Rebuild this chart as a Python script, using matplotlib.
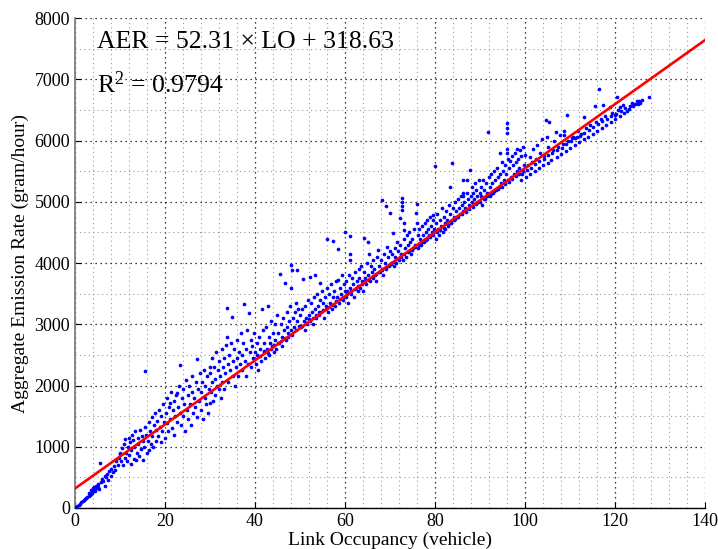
import numpy as np
import matplotlib.pyplot as plt
from matplotlib.ticker import MultipleLocator

plt.rcParams["font.family"] = ["Liberation Serif", "DejaVu Serif"]
plt.rcParams["mathtext.fontset"] = "custom"
plt.rcParams["mathtext.rm"] = "Liberation Serif"
plt.rcParams["mathtext.it"] = "Liberation Serif:italic"

# fitted model shown on the chart
slope = 52.31
intercept = 318.63
r_squared = 0.9794
fit_range = [0, 140]

# scatter values, grouped by link occupancy
occ_0_10 = [(0.2, 10), (0.5, 30), (0.8, 50), (1.1, 70), (1.4, 90), (1.7, 110), (2.0, 125),
            (2.2, 140), (2.5, 160), (2.7, 175), (3.0, 190), (3.1, 240), (3.3, 215), (3.5, 230),
            (3.6, 290), (3.8, 250), (3.9, 320), (4.0, 270), (4.2, 300), (4.3, 340), (4.5, 285),
            (4.6, 360), (4.8, 330), (5.0, 350), (5.1, 390), (5.3, 310), (5.6, 740), (5.8, 420),
            (6.1, 470), (6.3, 440), (6.6, 360), (6.7, 520), (6.9, 500), (7.1, 560), (7.4, 450),
            (7.6, 600), (7.9, 530), (8.1, 640), (8.4, 580), (8.7, 690), (8.9, 620), (9.2, 760),
            (9.5, 700), (9.7, 820), (9.9, 880)]

occ_10_20 = [(10.1, 900), (10.3, 760), (10.5, 980), (10.6, 700), (10.8, 1050), (11.0, 820),
             (11.2, 1130), (11.3, 900), (11.5, 760), (11.7, 1000), (11.9, 1150), (12.0, 860),
             (12.2, 1080), (12.4, 720), (12.5, 950), (12.7, 1200), (12.9, 1110), (13.0, 800),
             (13.2, 1000), (13.4, 1250), (13.6, 780), (13.7, 900), (13.9, 1150), (14.1, 1050),
             (14.3, 850), (14.5, 1280), (14.6, 960), (14.8, 1180), (15.0, 1100), (15.1, 780),
             (15.3, 1000), (15.5, 2240), (15.6, 1320), (15.8, 1200), (16.0, 900), (16.2, 1100),
             (16.4, 1400), (16.5, 950), (16.7, 1250), (16.9, 1050), (17.1, 1480), (17.2, 1180),
             (17.4, 1000), (17.6, 1350), (17.8, 1550), (18.0, 1100), (18.1, 1280), (18.3, 1420),
             (18.5, 1180), (18.7, 1600), (18.9, 1330), (19.0, 1080), (19.2, 1500), (19.4, 1250),
             (19.6, 1700), (19.8, 1400), (20.0, 1150)]

occ_20_30 = [(20.2, 1550), (20.4, 1380), (20.5, 1800), (20.7, 1250), (20.9, 1650), (21.0, 1710),
             (21.2, 1450), (21.4, 1900), (21.5, 1300), (21.7, 1600), (21.9, 1750), (22.0, 1200),
             (22.2, 1500), (22.4, 1850), (22.6, 1880), (22.7, 1400), (22.9, 1650), (23.1, 2000),
             (23.3, 2340), (23.4, 1550), (23.6, 1350), (23.8, 1800), (24.0, 1950), (24.1, 1500),
             (24.3, 1700), (24.5, 1250), (24.7, 2090), (24.8, 1600), (25.0, 1850), (25.2, 1450),
             (25.4, 2000), (25.6, 1700), (25.7, 1350), (25.9, 1900), (26.1, 2150), (26.3, 1550),
             (26.5, 1800), (26.6, 1650), (26.8, 2050), (27.0, 1490), (27.1, 2430), (27.3, 1950),
             (27.5, 1750), (27.7, 2200), (27.9, 1600), (28.0, 1900), (28.2, 2050), (28.4, 1450),
             (28.6, 2250), (28.8, 1800), (28.9, 2000), (29.1, 1700), (29.3, 2150), (29.5, 1550),
             (29.7, 1950), (29.9, 2300), (30.0, 1710), (30.0, 2200)]

occ_30_40 = [(30.2, 1900), (30.4, 2450), (30.5, 2050), (30.7, 1750), (30.9, 2300), (31.0, 2100),
             (31.2, 1850), (31.4, 2550), (31.5, 2000), (31.7, 2250), (31.9, 1950), (32.0, 2400),
             (32.2, 2150), (32.4, 1800), (32.6, 2600), (32.7, 2050), (32.9, 2300), (33.1, 2450),
             (33.2, 1950), (33.4, 2200), (33.6, 2660), (33.7, 2800), (33.7, 3270), (33.9, 2350),
             (34.1, 2050), (34.3, 2500), (34.5, 2250), (34.7, 2700), (34.8, 3120), (35.0, 2150),
             (35.2, 2400), (35.4, 2600), (35.5, 2000), (35.7, 2300), (35.9, 2750), (36.1, 2450),
             (36.2, 2150), (36.4, 2550), (36.6, 2350), (36.8, 2850), (37.0, 2250), (37.1, 2500),
             (37.3, 2700), (37.6, 3330), (37.7, 2400), (37.9, 2150), (38.1, 2600), (38.3, 2900),
             (38.5, 2350), (38.7, 3180), (38.8, 2550), (39.0, 2750), (39.2, 2300), (39.4, 2650),
             (39.6, 2450), (39.8, 2850), (40.0, 2550)]

occ_40_50 = [(40.2, 2350), (40.4, 2700), (40.5, 2500), (40.7, 2250), (40.9, 2800), (41.1, 2600),
             (41.3, 2400), (41.6, 3250), (41.7, 2900), (41.9, 2550), (42.1, 2700), (42.3, 2450),
             (42.5, 2950), (42.6, 2600), (42.9, 3300), (43.0, 2800), (43.2, 2500), (43.4, 2700),
             (43.6, 3050), (43.8, 2650), (44.0, 2850), (44.2, 2550), (44.4, 3000), (44.5, 2750),
             (44.7, 2600), (44.9, 3150), (45.1, 2850), (45.3, 2700), (45.6, 3820), (45.7, 3000),
             (45.9, 2800), (46.1, 2650), (46.3, 3100), (46.5, 2900), (46.7, 3670), (46.8, 2750),
             (47.0, 3200), (47.2, 2950), (47.4, 2850), (47.6, 3050), (47.8, 3300), (48.0, 2900),
             (48.1, 3970), (48.1, 3590), (48.2, 3880), (48.4, 3100), (48.6, 2950), (48.8, 3200),
             (49.0, 3350), (49.3, 3880), (49.4, 3050), (49.6, 3250), (49.8, 2980), (50.0, 3150)]

occ_50_60 = [(50.2, 2950), (50.4, 3250), (50.7, 3740), (50.8, 3050), (51.0, 2900), (51.2, 3300),
             (51.4, 3100), (51.6, 3000), (51.8, 3400), (52.0, 3150), (52.2, 3780), (52.3, 3050),
             (52.5, 3350), (52.7, 3200), (52.9, 3000), (53.1, 3450), (53.3, 3800), (53.4, 3250),
             (53.6, 3100), (53.8, 3500), (54.0, 3300), (54.2, 3150), (54.4, 3670), (54.5, 3400),
             (54.7, 3200), (54.9, 3550), (55.1, 3350), (55.3, 3100), (55.5, 3450), (55.7, 3300),
             (55.9, 3600), (56.1, 4390), (56.2, 3200), (56.4, 3500), (56.6, 3350), (56.8, 3650),
             (57.0, 3250), (57.3, 4365), (57.4, 3450), (57.6, 3550), (57.8, 3300), (58.0, 3700),
             (58.2, 3450), (58.5, 4230), (58.5, 3720), (58.7, 3350), (58.9, 3600), (59.1, 3500),
             (59.3, 3800), (59.5, 3400), (59.7, 3650), (59.9, 3550)]

occ_60_70 = [(60.0, 4500), (60.1, 3450), (60.3, 3700), (60.5, 3550), (60.7, 3350), (60.9, 3800),
             (61.0, 4150), (61.0, 4050), (61.1, 4440), (61.2, 3600), (61.4, 3500), (61.6, 3750),
             (61.8, 3650), (62.0, 3450), (62.2, 3850), (62.4, 3600), (62.6, 3700), (62.8, 3550),
             (63.0, 3900), (63.2, 3750), (63.4, 3600), (63.6, 3950), (63.8, 3700), (64.0, 3550),
             (64.1, 4410), (64.3, 3850), (64.5, 3750), (64.7, 3650), (64.9, 4000), (65.1, 3800),
             (65.2, 4350), (65.4, 4150), (65.5, 3700), (65.7, 3950), (65.9, 3850), (66.1, 3750),
             (66.3, 4050), (66.5, 3900), (66.7, 3800), (66.9, 3700), (67.1, 4100), (67.4, 4210),
             (67.5, 3950), (67.7, 3850), (67.9, 4050), (68.1, 5030), (68.2, 3900), (68.4, 3800),
             (68.6, 4150), (68.8, 4000), (69.0, 4930), (69.1, 3900), (69.3, 4270), (69.5, 4100),
             (69.7, 3950), (69.9, 4200)]

occ_70_80 = [(70.0, 4810), (70.2, 4000), (70.4, 4150), (70.7, 4485), (70.8, 3950), (71.0, 4250),
             (71.2, 4100), (71.4, 4000), (71.6, 4350), (71.8, 4200), (72.0, 4050), (72.1, 4730),
             (72.3, 4300), (72.5, 4150), (72.6, 5070), (72.6, 5000), (72.6, 4930), (72.6, 4870),
             (72.8, 4050), (73.0, 4660), (73.0, 4540), (73.1, 4400), (73.3, 4250), (73.5, 4100),
             (73.7, 4450), (73.9, 4300), (74.1, 4200), (74.3, 4500), (74.5, 4350), (74.7, 4150),
             (74.9, 4400), (75.1, 4250), (75.3, 4550), (75.5, 4300), (75.8, 4810), (75.9, 4960),
             (76.0, 4650), (76.1, 4450), (76.3, 4250), (76.5, 4550), (76.7, 4400), (76.9, 4300),
             (77.1, 4600), (77.3, 4450), (77.5, 4350), (77.7, 4650), (77.9, 4500), (78.1, 4400),
             (78.3, 4700), (78.5, 4550), (78.7, 4450), (78.9, 4750), (79.1, 4600), (79.3, 4500),
             (79.6, 4790), (79.6, 4710), (79.8, 4550)]

occ_80_90 = [(80.0, 5590), (80.1, 4650), (80.3, 4400), (80.5, 4800), (80.7, 4550), (80.9, 4450),
             (81.1, 4700), (81.3, 4600), (81.5, 4900), (81.7, 4500), (81.9, 4750), (82.1, 4650),
             (82.3, 4550), (82.5, 4850), (82.7, 4700), (82.9, 4600), (83.1, 4950), (83.3, 5250),
             (83.4, 4800), (83.6, 4650), (83.7, 5630), (83.9, 4900), (84.1, 4750), (84.3, 4700),
             (84.5, 5000), (84.7, 4850), (84.9, 4750), (85.1, 5050), (85.3, 4900), (85.5, 4800),
             (85.7, 5100), (85.9, 4950), (86.1, 4850), (86.3, 5360), (86.3, 5150), (86.3, 5100),
             (86.5, 5000), (86.7, 4900), (87.0, 5360), (87.1, 5150), (87.3, 5050), (87.5, 4950),
             (87.8, 5520), (87.9, 5100), (88.1, 5000), (88.3, 5250), (88.5, 5150), (88.7, 5050),
             (88.9, 5300), (89.1, 5200), (89.3, 5100), (89.5, 5000), (89.7, 5350), (89.9, 5150)]

occ_90_100 = [(90.1, 5250), (90.3, 5100), (90.5, 4950), (90.7, 5350), (90.9, 5200), (91.1, 5050),
              (91.3, 5300), (91.5, 5150), (91.8, 6140), (91.9, 5400), (92.1, 5250), (92.3, 5100),
              (92.5, 5450), (92.7, 5300), (92.9, 5150), (93.1, 5500), (93.3, 5350), (93.5, 5200),
              (93.7, 5550), (93.9, 5400), (94.1, 5250), (94.4, 5790), (94.5, 5450), (94.7, 5300),
              (94.9, 5650), (95.1, 5500), (95.3, 5350), (95.5, 5600), (95.7, 5450), (95.9, 6280),
              (95.9, 6200), (95.9, 6120), (95.9, 5870), (95.9, 5790), (96.1, 5350), (96.3, 5700),
              (96.5, 5550), (96.7, 5660), (96.9, 5400), (97.1, 5750), (97.3, 5600), (97.5, 5450),
              (97.7, 5800), (97.9, 5650), (98.1, 5870), (98.2, 5500), (98.4, 5700), (98.6, 5550),
              (98.8, 5850), (99.0, 5350), (99.2, 5750), (99.4, 5450), (99.6, 5900), (99.8, 5600)]

occ_100_128 = [(100.0, 5765), (100.2, 5400), (100.6, 5600), (101.0, 5727), (101.1, 5450),
               (101.5, 5650), (101.8, 5857), (102.1, 5500), (102.4, 5700), (102.6, 5928),
               (103.0, 5550), (103.3, 5800), (103.7, 6026), (104.0, 5600), (104.3, 5750),
               (104.7, 6336), (104.8, 6064), (105.0, 5640), (105.2, 5900), (105.4, 6308),
               (105.8, 5690), (106.2, 5850), (106.5, 5990), (106.9, 6145), (107.0, 5730),
               (107.4, 5900), (107.8, 6091), (108.0, 5780), (108.4, 5950), (108.7, 6161),
               (108.7, 6091), (109.0, 5830), (109.3, 6418), (109.6, 6000), (110.0, 5880),
               (110.4, 6050), (110.7, 6064), (111.0, 5920), (111.5, 6064), (111.8, 6150),
               (112.0, 5970), (112.5, 6100), (113.0, 6390), (113.0, 6020), (113.5, 6200),
               (114.0, 6060), (114.5, 6250), (115.0, 6110), (115.6, 6570), (115.8, 6300),
               (116.0, 6160), (116.5, 6842), (116.8, 6350), (117.0, 6210), (117.4, 6581),
               (117.8, 6400), (118.0, 6260), (118.9, 6553), (119.0, 6310), (119.3, 6450),
               (120.0, 6418), (120.0, 6360), (120.4, 6716), (120.7, 6500), (121.0, 6553),
               (121.0, 6400), (121.8, 6581), (122.0, 6450), (122.6, 6480), (123.0, 6510),
               (123.4, 6560), (123.8, 6620), (124.0, 6560), (124.4, 6600), (124.8, 6640),
               (125.0, 6600), (125.3, 6650), (125.6, 6620), (126.0, 6660), (127.6, 6707)]

# dense core of points lying close to the fitted line
occ_core = [(41.2, 2480), (42.0, 2560), (42.8, 2530), (43.5, 2600), (44.3, 2660), (45.0, 2700),
            (45.8, 2720), (46.6, 2780), (47.3, 2800), (48.3, 2820), (49.1, 2900), (49.9, 2950),
            (50.5, 2980), (51.3, 3020), (52.1, 3080), (52.8, 3110), (53.5, 3150), (54.3, 3200),
            (55.0, 3230), (55.8, 3250), (56.5, 3290), (57.2, 3320), (58.1, 3380), (58.8, 3410),
            (59.6, 3440), (60.4, 3500), (61.3, 3540), (62.1, 3570), (62.9, 3620), (63.7, 3650),
            (64.4, 3700), (65.3, 3720), (66.0, 3780), (66.8, 3820), (67.6, 3860), (68.3, 3880),
            (69.2, 3940), (70.1, 3980), (70.9, 4020), (71.7, 4060), (72.4, 4100), (73.2, 4140),
            (74.0, 4180), (74.8, 4220), (75.6, 4260), (76.4, 4300), (77.2, 4340), (78.0, 4380),
            (78.8, 4420), (79.5, 4460), (80.4, 4500), (81.2, 4540), (82.0, 4580), (82.8, 4620),
            (83.5, 4680), (84.4, 4720), (85.2, 4760), (86.0, 4800), (86.8, 4840), (87.6, 4880),
            (88.4, 4920), (89.2, 4960), (90.0, 5000), (90.8, 5050), (91.6, 5090), (92.4, 5130),
            (93.2, 5170), (94.0, 5210), (94.8, 5250), (95.6, 5290), (96.4, 5330), (97.2, 5380),
            (98.0, 5420), (98.7, 5460), (99.5, 5500), (100.4, 5520), (101.3, 5560), (102.2, 5610),
            (103.1, 5660), (104.1, 5700), (105.1, 5760), (106.0, 5800), (107.2, 5840), (108.2, 5880),
            (109.2, 5940), (110.2, 5990), (111.2, 6040), (112.2, 6080), (113.2, 6130), (114.2, 6180),
            (115.2, 6230), (116.2, 6270), (117.2, 6320), (118.2, 6360), (119.2, 6400), (120.2, 6440),
            (121.4, 6490), (122.3, 6530)]

segments = [occ_0_10, occ_10_20, occ_20_30, occ_30_40, occ_40_50, occ_50_60,
            occ_60_70, occ_70_80, occ_80_90, occ_90_100, occ_100_128, occ_core]
points = np.array([p for seg in segments for p in seg])

fig = plt.figure(figsize=(7.18, 5.49), dpi=100)
ax = fig.add_axes([0.1045, 0.0747, 0.8775, 0.8923])

ax.scatter(points[:, 0], points[:, 1], s=7, c="#0000ff", linewidths=0, zorder=3)

fx = np.array(fit_range)
ax.plot(fx, slope * fx + intercept, color="#ff0000", linewidth=1.9, zorder=4)

ax.set_xlim(0, 140)
ax.set_ylim(0, 8000)
ax.xaxis.set_major_locator(MultipleLocator(20))
ax.xaxis.set_minor_locator(MultipleLocator(4))
ax.yaxis.set_major_locator(MultipleLocator(1000))
ax.yaxis.set_minor_locator(MultipleLocator(500))

ax.grid(which="major", color="black", linestyle=(0, (1, 3)), linewidth=0.9)
ax.grid(which="minor", color="#999999", linestyle=(0, (1, 3)), linewidth=0.8)
ax.set_axisbelow(True)

for side in ["top", "right"]:
    ax.spines[side].set_visible(False)
ax.spines["left"].set_color("#808080")
ax.spines["left"].set_linewidth(1.3)
ax.spines["bottom"].set_linewidth(1.0)
ax.tick_params(which="both", direction="in", labelsize=13)
ax.tick_params(which="major", length=4)
ax.tick_params(which="minor", length=0)

ax.set_xlabel("Link Occupancy (vehicle)", fontsize=14, labelpad=1)
ax.set_ylabel("Aggregate Emission Rate (gram/hour)", fontsize=14, labelpad=4)

ax.text(4.9, 7512, "AER = 52.31 \u00d7 LO + 318.63", fontsize=18.5, va="baseline")
ax.text(4.9, 6777, "R$^{\\mathrm{2}}$ = %.4f" % r_squared, fontsize=18.5, va="baseline")

fig.savefig("out.png", dpi=100)
